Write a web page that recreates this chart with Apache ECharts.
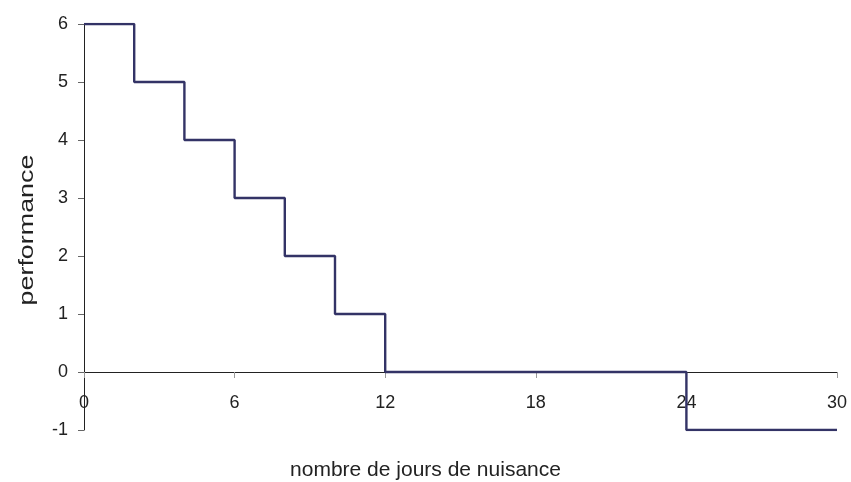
<!DOCTYPE html>
<html>
<head>
<meta charset="utf-8">
<script src="https://cdn.jsdelivr.net/npm/echarts@6/dist/echarts.min.js"></script>
<style>
  html, body { margin: 0; padding: 0; background: #fff; }
  #chart { width: 851px; height: 482px; }
</style>
</head>
<body>
<div id="chart"></div>
<script>
// step points: value changes at each day listed
const days = [0, 2, 4, 6, 8, 10, 12, 24, 30]
const perf = [6, 5, 4, 3, 2, 1, 0, -1, -1]
const xTicks = [0, 6, 12, 18, 24, 30]

let chart = echarts.init(document.getElementById('chart'))

let labelFont = {
  fontFamily: 'Liberation Sans',
  fontSize: 18,
  color: '#222'
}

let option = {
  animation: false,
  title: {
    text: 'nombre de jours de nuisance',
    left: 'center',
    top: 455,
    textStyle: {
      fontFamily: 'Liberation Sans',
      fontSize: 21,
      fontWeight: 'normal',
      color: '#222'
    }
  },
  // y axis title, stretched a bit like the original
  graphic: [
    {
      type: 'text',
      x: 27,
      y: 230,
      rotation: Math.PI / 2,
      scaleX: 1.28,
      style: {
        text: 'performance',
        font: '21px "Liberation Sans"',
        fill: '#222',
        align: 'center',
        verticalAlign: 'middle'
      }
    }
  ],
  grid: {
    left: 84,
    right: 14,
    top: 24,
    bottom: 52
  },
  xAxis: [
    {
      // axis line crossing at zero
      type: 'value',
      min: xTicks[0],
      max: xTicks[xTicks.length - 1],
      interval: 6,
      axisLine: { onZero: true, lineStyle: { color: '#222', width: 1 } },
      axisTick: { show: true, length: 6, lineStyle: { color: '#999' } },
      axisLabel: { show: false },
      splitLine: { show: false }
    },
    {
      // labels only, lifted up to the zero line
      type: 'value',
      position: 'bottom',
      offset: -58,
      min: xTicks[0],
      max: xTicks[xTicks.length - 1],
      interval: 6,
      axisLine: { show: false, onZero: false },
      axisTick: { show: false },
      axisLabel: Object.assign({ margin: 22 }, labelFont),
      splitLine: { show: false }
    }
  ],
  yAxis: {
    type: 'value',
    min: -1,
    max: 6,
    interval: 1,
    axisLine: { show: true, lineStyle: { color: '#222', width: 1 } },
    axisTick: { show: true, length: 6, lineStyle: { color: '#666' } },
    axisLabel: Object.assign({ margin: 16 }, labelFont),
    splitLine: { show: false }
  },
  series: [
    {
      type: 'line',
      step: 'end',
      data: days.map((d, i) => [d, perf[i]]),
      symbol: 'none',
      lineStyle: { color: '#333366', width: 2.4 }
    }
  ]
}

chart.setOption(option)
</script>
</body>
</html>
